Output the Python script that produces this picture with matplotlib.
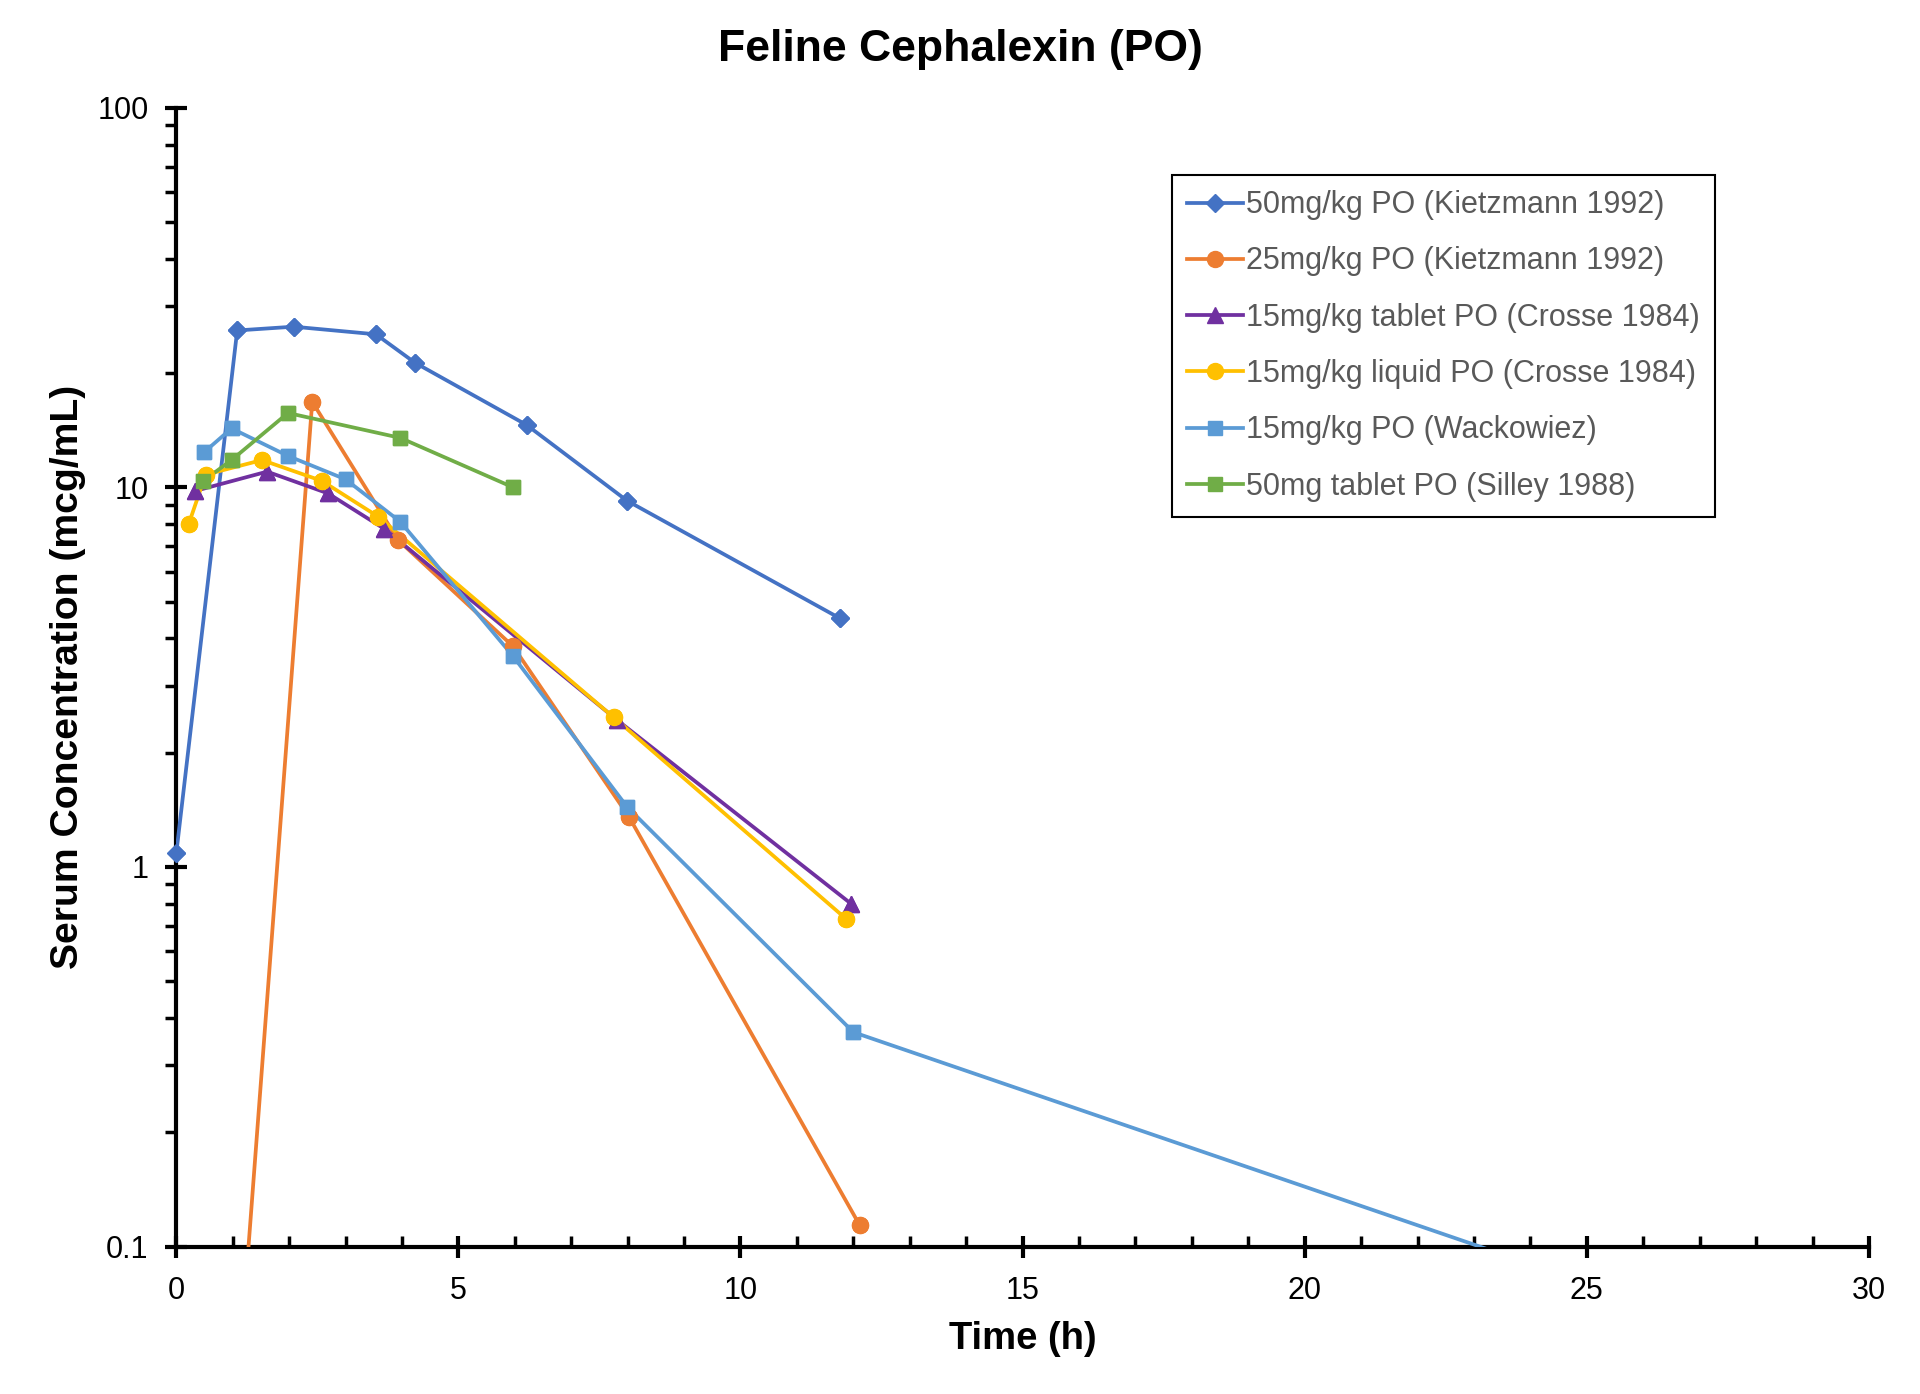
import numpy as np
import matplotlib.pyplot as plt
from matplotlib.ticker import FixedLocator, NullFormatter, LogLocator, MultipleLocator

plt.rcParams['font.family'] = ['Liberation Sans', 'DejaVu Sans']

# ---- data ----
labels = [
    '50mg/kg PO (Kietzmann 1992)',
    '25mg/kg PO (Kietzmann 1992)',
    '15mg/kg tablet PO (Crosse 1984)',
    '15mg/kg liquid PO (Crosse 1984)',
    '15mg/kg PO (Wackowiez)',
    '50mg tablet PO (Silley 1988)',
]

kietz50_t = [0, 1.08, 2.08, 3.54, 4.23, 6.21, 7.99, 11.76]
kietz50_c = [1.085, 25.9, 26.5, 25.3, 21.3, 14.6, 9.22, 4.52]

kietz25_t = [1.0, 2.41, 3.93, 5.97, 8.03, 12.11]
kietz25_c = [0.028, 16.8, 7.27, 3.81, 1.35, 0.114]

crosse_tab_t = [0.33, 1.61, 2.69, 3.69, 7.81, 11.96]
crosse_tab_c = [9.78, 11.0, 9.64, 7.77, 2.44, 0.80]

crosse_liq_t = [0.22, 0.52, 1.52, 2.58, 3.58, 7.75, 11.87]
crosse_liq_c = [8.0, 10.8, 11.8, 10.4, 8.37, 2.48, 0.73]

wack_t = [0.5, 0.98, 1.98, 3.0, 3.97, 5.97, 7.99, 12.0, 24.0]
wack_c = [12.4, 14.3, 12.1, 10.5, 8.12, 3.59, 1.44, 0.367, 0.09]

silley_t = [0.48, 0.98, 1.98, 3.97, 5.97]
silley_c = [10.4, 11.8, 15.7, 13.5, 10.0]

series = [
    (kietz50_t, kietz50_c, '#4472C4', 'D', 9.5),
    (kietz25_t, kietz25_c, '#ED7D31', 'o', 11.5),
    (crosse_tab_t, crosse_tab_c, '#7030A0', '^', 11.5),
    (crosse_liq_t, crosse_liq_c, '#FFC000', 'o', 11.5),
    (wack_t, wack_c, '#5B9BD5', 's', 10.5),
    (silley_t, silley_c, '#70AD47', 's', 10.5),
]

fig = plt.figure(figsize=(19.2, 13.94), dpi=100)
ax = fig.add_axes([0.0918, 0.1058, 0.8816, 0.8169])

ymin, ymax = 0.1, 100
for (t, c, col, mk, ms), lab in zip(series, labels):
    t = np.array(t)
    c = np.array(c)
    ax.plot(t, c, color=col, lw=2.7, marker=mk, ms=ms, label=lab, zorder=3)
    # markers sitting on the axis edge are drawn unclipped
    keep = (c >= ymin) & (c <= ymax)
    ax.plot(t[keep], c[keep], ls='none', marker=mk, ms=ms, color=col,
            clip_on=False, zorder=4)

ax.set_yscale('log')
ax.set_xlim(0, 30)
ax.set_ylim(ymin, ymax)

ax.xaxis.set_major_locator(MultipleLocator(5))
ax.xaxis.set_minor_locator(MultipleLocator(1))
ax.yaxis.set_major_locator(FixedLocator([0.1, 1, 10, 100]))
ax.yaxis.set_minor_locator(LogLocator(base=10, subs=np.arange(2, 10)))
ax.yaxis.set_minor_formatter(NullFormatter())
ax.set_yticklabels(['0.1', '1', '10', '100'])

for s in ['top', 'right']:
    ax.spines[s].set_visible(False)
for s in ['left', 'bottom']:
    ax.spines[s].set_linewidth(3)

ax.tick_params(axis='x', which='major', direction='inout', length=16, width=3,
               labelsize=22, pad=13)
ax.tick_params(axis='x', which='minor', direction='in', length=8, width=2.5)
ax.tick_params(axis='y', which='major', direction='inout', length=16, width=3,
               labelsize=22, pad=12)
ax.tick_params(axis='y', which='minor', direction='out', length=8, width=2.5)

fig.text(0.5, 0.9645, 'Feline Cephalexin (PO)', fontsize=32, fontweight='bold',
         ha='center', va='center')
ax.set_xlabel('Time (h)', fontsize=27.5, fontweight='bold', labelpad=11)
ax.set_ylabel('Serum Concentration (mcg/mL)', fontsize=28.2, fontweight='bold', labelpad=8)

leg = ax.legend(loc='upper left', bbox_to_anchor=(0.588, 0.941), fontsize=22,
                frameon=True, fancybox=False, edgecolor='black', framealpha=1,
                handlelength=1.85, handletextpad=0.1, labelspacing=0.86,
                borderpad=0.5, borderaxespad=0)
leg.get_frame().set_linewidth(1.5)
for txt in leg.get_texts():
    txt.set_color('#595959')

fig.savefig('out.png', dpi=100)
